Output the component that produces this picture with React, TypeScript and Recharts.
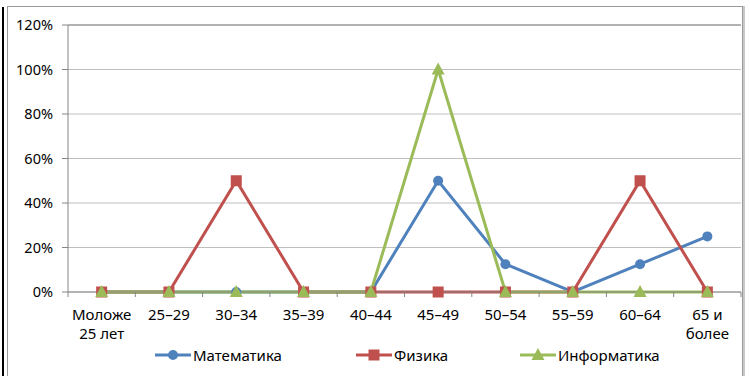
import React from 'react';
import { LineChart, Line, XAxis, YAxis, CartesianGrid, ReferenceLine } from 'recharts';

const categories = ['Моложе 25 лет', '25–29', '30–34', '35–39', '40–44', '45–49', '50–54', '55–59', '60–64', '65 и более'];
const matematika = [0, 0, 0, 0, 0, 50, 12.5, 0, 12.5, 25];
const fizika = [0, 0, 50, 0, 0, 0, 0, 0, 50, 0];
const informatika = [0, 0, 0, 0, 0, 100, 0, 0, 0, 0];
const yTicks = [0, 20, 40, 60, 80, 100, 120];

const labelLines: Record<string, string[]> = {
  'Моложе 25 лет': ['Моложе', '25 лет'],
  '65 и более': ['65 и', 'более'],
};

const data = categories.map((c, i) => ({
  name: c,
  math: matematika[i],
  phys: fizika[i],
  inf: informatika[i],
}));

const BLUE = '#4f81bd';
const RED = '#c0504d';
const GREEN = '#9bbb59';
const FONT = '"Noto Sans", sans-serif';
const FS = 14.5;
const LFS = 15;
const BAND = (741 - 68) / categories.length;

function XTick(props: any) {
  const { x, y, payload, index } = props;
  const lines = labelLines[payload.value] || [payload.value];
  return (
    <g>
      <line x1={x - BAND / 2} y1={y - 8} x2={x - BAND / 2} y2={y - 3} stroke="#868686" />
      {index === categories.length - 1 && (
        <line x1={x + BAND / 2} y1={y - 8} x2={x + BAND / 2} y2={y - 3} stroke="#868686" />
      )}
      {lines.map((l, i) => (
        <text key={i} x={x} y={y + 20 + i * 19} textAnchor="middle" fontSize={LFS} fontFamily={FONT} fill="#000">
          {l}
        </text>
      ))}
    </g>
  );
}

const SquareDot = (p: any) => <rect key={p.index} x={p.cx - 5.5} y={p.cy - 5.5} width={11} height={11} fill={RED} />;
const TriDot = (p: any) => (
  <polygon key={p.index} points={`${p.cx},${p.cy - 7} ${p.cx - 6.5},${p.cy + 5} ${p.cx + 6.5},${p.cy + 5}`} fill={GREEN} />
);

function LegendItem({ color, label, marker }: { color: string; label: string; marker: 'circle' | 'square' | 'tri' }) {
  return (
    <div style={{ display: 'flex', alignItems: 'center' }}>
      <svg width={36} height={14}>
        <line x1={0} y1={7} x2={36} y2={7} stroke={color} strokeWidth={3} />
        {marker === 'circle' && <circle cx={18} cy={7} r={5} fill={color} />}
        {marker === 'square' && <rect x={12.5} y={1.5} width={11} height={11} fill={color} />}
        {marker === 'tri' && <polygon points="18,0 11.5,12 24.5,12" fill={color} />}
      </svg>
      <span style={{ marginLeft: 2, fontSize: LFS, fontFamily: FONT, color: '#000', whiteSpace: 'nowrap' }}>{label}</span>
    </div>
  );
}

export default function App() {
  return (
    <div style={{ position: 'absolute', left: 0, top: 0, width: 750, height: 376, background: '#fff', overflow: 'hidden' }}>
      <div style={{ position: 'absolute', left: 2, top: 7, width: 2, height: 380, background: '#000' }} />
      <div
        style={{
          position: 'absolute',
          left: 7,
          top: 6,
          width: 734,
          height: 380,
          border: '1px solid #9a9a9a',
          boxShadow: '2px 0 0 #c8c8c8',
        }}
      />
      <div style={{ position: 'absolute', left: 0, top: 0 }}>
        <LineChart width={750} height={376} data={data} margin={{ top: 25, right: 9, bottom: 0, left: 8 }}>
          <CartesianGrid vertical={false} stroke="#bfbfbf" strokeWidth={1} />
          <XAxis
            dataKey="name"
            height={84}
            axisLine={{ stroke: '#868686' }}
            tickLine={false}
            interval={0}
            padding={{ left: BAND / 2, right: BAND / 2 }}
            tick={<XTick />}
          />
          <YAxis
            width={60}
            domain={[0, 120]}
            ticks={yTicks}
            interval={0}
            tickFormatter={(v: number) => `${v}%`}
            axisLine={{ stroke: '#868686' }}
            tickLine={{ stroke: '#868686' }}
            tickSize={6}
            tickMargin={9}
            tick={{ fontSize: FS, fontFamily: FONT, fill: '#000' }}
          />
          <ReferenceLine y={120} stroke="#868686" />
          <Line
            dataKey="math"
            stroke={BLUE}
            strokeWidth={3}
            dot={{ r: 5, fill: BLUE, stroke: BLUE, strokeWidth: 0 }}
            isAnimationActive={false}
          />
          <Line dataKey="phys" stroke={RED} strokeWidth={3} dot={SquareDot} isAnimationActive={false} />
          <Line dataKey="inf" stroke={GREEN} strokeWidth={3} dot={TriDot} isAnimationActive={false} />
        </LineChart>
      </div>
      <div style={{ position: 'absolute', left: 155, top: 345 }}>
        <div style={{ position: 'absolute', left: 0 }}>
          <LegendItem color={BLUE} label="Математика" marker="circle" />
        </div>
        <div style={{ position: 'absolute', left: 201 }}>
          <LegendItem color={RED} label="Физика" marker="square" />
        </div>
        <div style={{ position: 'absolute', left: 365 }}>
          <LegendItem color={GREEN} label="Информатика" marker="tri" />
        </div>
      </div>
    </div>
  );
}
